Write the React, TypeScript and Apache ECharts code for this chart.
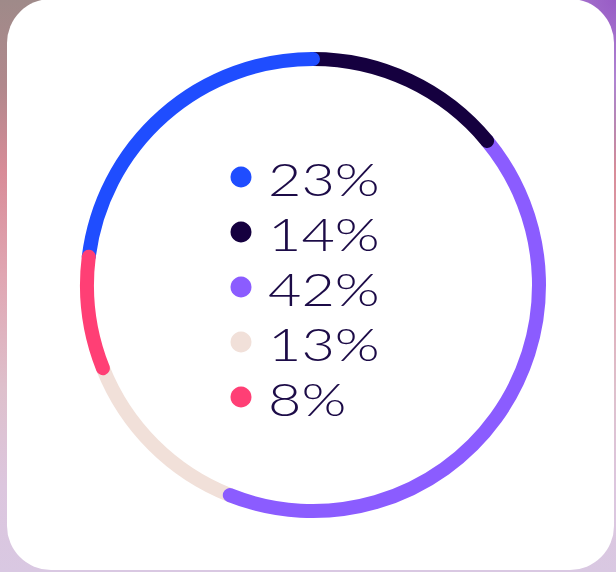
import React, { useEffect, useRef } from 'react';
import * as echarts from 'echarts';

// Share of each segment (percent), in legend order
const shares = [23, 14, 42, 13, 8];
// Segment colours, same order
const segmentColors = ['#1f4dff', '#15003f', '#8b5cff', '#f1e0d9', '#ff3f75'];
// Which segment's rounded cap is drawn on top of which
const stackOrder = [3, 2, 1, 0, 4];

export default function App() {
  const ref = useRef<HTMLDivElement>(null);

  useEffect(() => {
    if (!ref.current) return;
    const chart = echarts.init(ref.current, null, { renderer: 'svg' });
    const total = shares.reduce((a, b) => a + b, 0);
    let acc = 0;
    const arcData = shares.map((v, i) => {
      const s = acc;
      acc += v;
      return { value: [s, acc, i], itemStyle: { color: segmentColors[i] } };
    });

    const legendX = 241;
    const legendY0 = 177;
    const rowGap = 55;
    const graphics: any[] = [];
    shares.forEach((v, i) => {
      graphics.push({
        type: 'circle',
        shape: { cx: legendX, cy: legendY0 + i * rowGap, r: 10.5 },
        style: { fill: segmentColors[i] },
      });
      graphics.push({
        type: 'text',
        x: 268,
        y: legendY0 + i * rowGap + 2,
        scaleX: 1.28,
        style: {
          text: `${v}%`,
          fontSize: 45,
          fontFamily: 'Lato',
          fontWeight: 300,
          fill: '#1c0b47',
          verticalAlign: 'middle',
          align: 'left',
        },
      });
    });

    chart.setOption({
      animation: false,
      polar: { center: [313, 285], radius: [219, 233] },
      angleAxis: {
        type: 'value',
        min: 0,
        max: total,
        startAngle: 90 + (shares[0] / total) * 360,
        clockwise: true,
        show: false,
      },
      radiusAxis: { type: 'value', min: 0, max: 1, show: false },
      series: [
        {
          type: 'custom',
          coordinateSystem: 'polar',
          data: arcData,
          renderItem: (params: any, api: any) => {
            const s = api.value(0);
            const e = api.value(1);
            const idx = api.value(2);
            const cs = params.coordSys;
            const p0 = api.coord([0.5, s]);
            const p1 = api.coord([0.5, e]);
            const a0 = Math.atan2(p0[1] - cs.cy, p0[0] - cs.cx);
            let a1 = Math.atan2(p1[1] - cs.cy, p1[0] - cs.cx);
            while (a1 <= a0) a1 += Math.PI * 2;
            const r = Math.hypot(p0[0] - cs.cx, p0[1] - cs.cy);
            return {
              type: 'arc',
              z2: stackOrder[idx],
              shape: { cx: cs.cx, cy: cs.cy, r, startAngle: a0, endAngle: a1, clockwise: true },
              style: { stroke: api.visual('color'), fill: null, lineWidth: 14, lineCap: 'round' },
            };
          },
        },
      ],
      graphic: graphics,
    });
    return () => chart.dispose();
  }, []);

  return (
    <div
      style={{
        position: 'fixed',
        left: 0,
        top: 0,
        width: 616,
        height: 572,
        overflow: 'hidden',
        background:
          'radial-gradient(circle at 100% 0%, #985cc6 0px, #b084d2 80px, rgba(210,190,230,0) 170px), linear-gradient(180deg, #9f8a89 0%, #b0888c 15%, #d88c98 30%, #e0a6b2 48%, #dec0cc 68%, #dcc6de 85%, #d9c8e2 100%)',
      }}
    >
      <div
        style={{
          position: 'absolute',
          left: 7,
          top: -1,
          width: 607,
          height: 571,
          background: '#ffffff',
          borderRadius: 44,
        }}
      />
      <div ref={ref} style={{ position: 'absolute', left: 0, top: 0, width: 616, height: 572 }} />
    </div>
  );
}
